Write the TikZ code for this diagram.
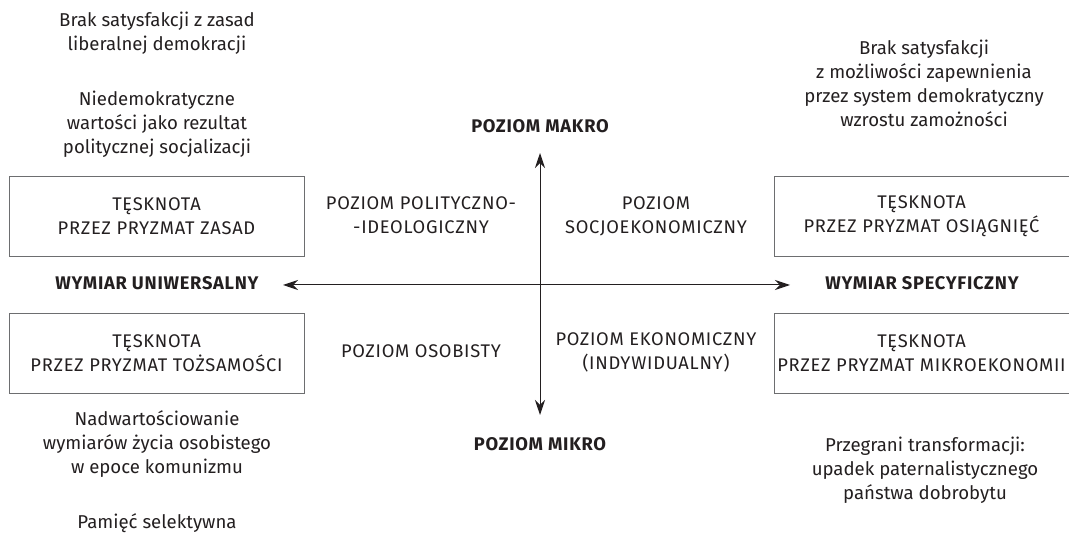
\documentclass[tikz,border=0pt]{standalone}
\usepackage{fontspec}
\setmainfont{Fira Sans}
\newfontfamily\capsfont[LetterSpace=4]{Fira Sans}
\usetikzlibrary{arrows.meta}
\definecolor{ink}{HTML}{231F20}
\definecolor{frame}{HTML}{6D6E70}
\tikzset{
  txt/.style={anchor=base, align=center, text=ink, font=\fontsize{18.6}{24}\selectfont},
  caps/.style={anchor=base, align=center, text=ink, font=\fontsize{18.3}{24}\selectfont\capsfont},
  capsb/.style={anchor=base, align=center, text=ink, font=\fontsize{18.3}{24}\selectfont\capsfont\bfseries},
  boxnode/.style={draw=frame, line width=0.9pt, minimum width=295pt, minimum height=80pt, align=center, text=ink, inner sep=0pt, font=\fontsize{18.3}{24}\selectfont\capsfont},
  axis/.style={draw=ink, line width=1pt, {Stealth[length=15pt,width=10pt]}-{Stealth[length=15pt,width=10pt]}}
}
\begin{document}
\begin{tikzpicture}[x=1pt,y=-1pt]
\useasboundingbox (0,0) rectangle (1069,534);
% texts upper left (base = last line)
\node[txt] (tl1) at (157,51) {Brak satysfakcji z zasad\\liberalnej demokracji};
\node[txt] (tl2) at (157,154) {Niedemokratyczne\\wartości jako rezultat\\politycznej socjalizacji};
% text upper right
\node[txt] (tr1) at (924,127) {Brak satysfakcji\\z możliwości zapewnienia\\przez system demokratyczny\\wzrostu zamożności};
% boxes
\node[boxnode] (b1) at (156.5,216) {TĘSKNOTA\\PRZEZ PRYZMAT ZASAD};
\node[boxnode] (b2) at (156.5,353) {TĘSKNOTA\\PRZEZ PRYZMAT TOŻSAMOŚCI};
\node[boxnode] (b3) at (921.5,216) {TĘSKNOTA\\PRZEZ PRYZMAT OSIĄGNIĘĆ};
\node[boxnode] (b4) at (921.5,353) {TĘSKNOTA\\PRZEZ PRYZMAT MIKROEKONOMII};
% axis labels
\node[capsb] (makro) at (540,133) {POZIOM MAKRO};
\node[capsb] (mikro) at (540,451) {POZIOM MIKRO};
\node[capsb] (uni) at (157,290) {WYMIAR UNIWERSALNY};
\node[capsb] (spec) at (922,290) {WYMIAR SPECYFICZNY};
% quadrant labels
\node[caps] (q1) at (421,234) {POZIOM POLITYCZNO-\\-IDEOLOGICZNY};
\node[caps] (q2) at (656,234) {POZIOM\\SOCJOEKONOMICZNY};
\node[caps] (q3) at (421,358) {POZIOM OSOBISTY};
\node[caps] (q4) at (656,370) {POZIOM EKONOMICZNY\\(INDYWIDUALNY)};
% lower texts
\node[txt] (bl1) at (157,474) {Nadwartościowanie\\wymiarów życia osobistego\\w epoce komunizmu};
\node[txt] (bl2) at (157,529) {Pamięć selektywna};
\node[txt] (br1) at (925,500) {Przegrani transformacji:\\upadek paternalistycznego\\państwa dobrobytu};
% axes
\coordinate (L) at (283,285);
\coordinate (R) at (790,285);
\coordinate (T) at (540,153);
\coordinate (B) at (540,415);
\draw[axis] (L) -- (R);
\draw[axis] (T) -- (B);
\end{tikzpicture}
\end{document}
